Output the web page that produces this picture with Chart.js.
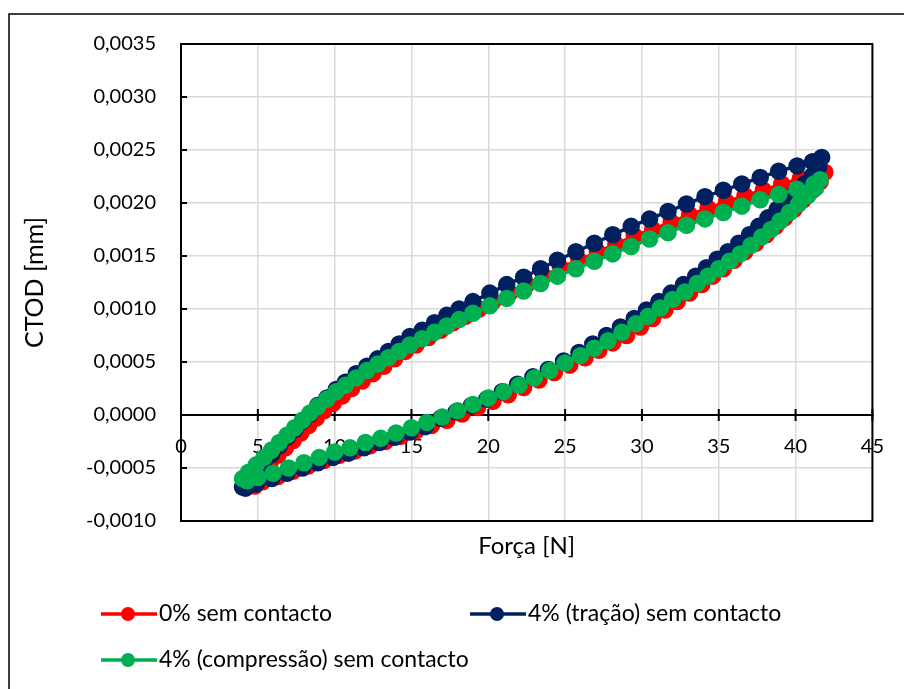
<!DOCTYPE html>
<html>
<head>
<meta charset="utf-8">
<script src="https://cdn.jsdelivr.net/npm/chart.js@4"></script>
<style>
    html, body { margin: 0; padding: 0; background: #fff; }
</style>
</head>
<body>
<canvas id="graficoCtod" width="904" height="689"></canvas>
<script>
// Dados (Força [N] vs CTOD [mm]) - ciclo de carga e descarga

var vermelhoX = [4.3, 4.8, 5.3, 5.8, 6.3, 6.8, 7.3, 7.8, 8.3, 8.8, 9.3, 9.9, 10.5, 11.1, 11.8, 12.5, 13.2, 13.9, 14.6, 15.3,
    16.1, 16.9, 17.7, 18.5, 19.4, 20.3, 21.4, 22.5, 23.6, 24.7, 25.9, 27.1, 28.3, 29.5, 30.7, 31.9, 33.1, 34.3, 35.5, 36.7,
    37.9, 39.1, 40.3, 41.4, 41.9,
    41.6, 41.1, 40.5, 39.9, 39.3, 38.7, 38.1, 37.4, 36.7, 36.0, 35.3, 34.6, 33.9, 33.1, 32.3, 31.5, 30.7, 29.9, 29.0, 28.1,
    27.2, 26.3, 25.3, 24.3, 23.3, 22.3, 21.3, 20.3, 19.3, 18.3, 17.3, 16.3, 15.3, 14.3, 13.3, 12.3, 11.3, 10.3, 9.3, 8.3,
    7.3, 6.3, 5.3, 4.8];
var vermelhoY = [-0.00066, -0.00059, -0.00052, -0.00045, -0.00038, -0.00031, -0.00024, -0.00017, -0.00010, -0.00003,
    0.00004, 0.00011, 0.00018, 0.00025, 0.00032, 0.00039, 0.00046, 0.00053, 0.00060, 0.00066,
    0.00073, 0.00080, 0.00087, 0.00093, 0.00100, 0.00107, 0.00115, 0.00123, 0.00131, 0.00139,
    0.00146, 0.00154, 0.00161, 0.00169, 0.00175, 0.00182, 0.00189, 0.00195, 0.00201, 0.00207,
    0.00212, 0.00218, 0.00223, 0.00227, 0.00229,
    0.00220, 0.00212, 0.00203, 0.00194, 0.00186, 0.00178, 0.00170, 0.00162, 0.00154, 0.00146,
    0.00138, 0.00131, 0.00123, 0.00115, 0.00107, 0.00099, 0.00091, 0.00083, 0.00075, 0.00068,
    0.00061, 0.00054, 0.00047, 0.00040, 0.00033, 0.00026, 0.00019, 0.00013, 0.00007, 0.00001,
    -0.00005, -0.00010, -0.00015, -0.00020, -0.00025, -0.00029, -0.00034, -0.00038, -0.00043, -0.00048,
    -0.00053, -0.00058, -0.00063, -0.00067];

var azulX = [4.0, 4.4, 4.9, 5.4, 5.9, 6.4, 6.9, 7.4, 7.9, 8.4, 8.9, 9.5, 10.1, 10.7, 11.4, 12.1, 12.8, 13.5, 14.2, 14.9,
    15.7, 16.5, 17.3, 18.1, 19.0, 20.1, 21.2, 22.3, 23.4, 24.5, 25.7, 26.9, 28.1, 29.3, 30.5, 31.7, 32.9, 34.1, 35.3, 36.5,
    37.7, 38.9, 40.1, 41.1, 41.7,
    41.5, 41.1, 40.6, 40.0, 39.4, 38.8, 38.2, 37.6, 37.0, 36.3, 35.6, 34.9, 34.2, 33.5, 32.7, 31.9, 31.1, 30.3, 29.5, 28.6,
    27.7, 26.8, 25.9, 24.9, 23.9, 22.9, 21.9, 20.9, 19.9, 18.9, 17.9, 16.9, 15.9, 14.9, 13.9, 12.9, 11.9, 10.9, 9.9, 8.9,
    7.9, 6.9, 5.9, 4.9, 4.2];
var azulY = [-0.00068, -0.00061, -0.00053, -0.00045, -0.00037, -0.00029, -0.00021, -0.00014, -0.00006, 0.00001,
    0.00009, 0.00016, 0.00024, 0.00031, 0.00039, 0.00046, 0.00053, 0.00060, 0.00067, 0.00074,
    0.00080, 0.00087, 0.00094, 0.00100, 0.00107, 0.00115, 0.00123, 0.00130, 0.00138, 0.00146,
    0.00154, 0.00162, 0.00170, 0.00178, 0.00185, 0.00192, 0.00199, 0.00206, 0.00212, 0.00218,
    0.00224, 0.00230, 0.00235, 0.00239, 0.00243,
    0.00234, 0.00226, 0.00218, 0.00210, 0.00202, 0.00194, 0.00186, 0.00178, 0.00170, 0.00162,
    0.00154, 0.00147, 0.00139, 0.00131, 0.00123, 0.00115, 0.00107, 0.00099, 0.00091, 0.00083,
    0.00075, 0.00067, 0.00059, 0.00051, 0.00043, 0.00036, 0.00029, 0.00022, 0.00015, 0.00009,
    0.00003, -0.00003, -0.00011, -0.00016, -0.00021, -0.00026, -0.00031, -0.00036, -0.00040, -0.00045,
    -0.00050, -0.00055, -0.00060, -0.00065, -0.00069];

var verdeX = [4.0, 4.4, 4.9, 5.4, 5.9, 6.4, 6.9, 7.4, 7.9, 8.4, 8.9, 9.5, 10.1, 10.7, 11.4, 12.1, 12.8, 13.5, 14.2, 14.9,
    15.7, 16.5, 17.3, 18.1, 19.0, 20.1, 21.2, 22.3, 23.4, 24.5, 25.7, 26.9, 28.1, 29.3, 30.5, 31.7, 32.9, 34.1, 35.3, 36.5,
    37.7, 38.9, 40.1, 41.2, 41.6,
    41.3, 40.8, 40.2, 39.6, 39.0, 38.4, 37.8, 37.1, 36.4, 35.7, 35.0, 34.3, 33.6, 32.8, 32.0, 31.2, 30.4, 29.6, 28.7, 27.8,
    26.9, 26.0, 25.0, 24.0, 23.0, 22.0, 21.0, 20.0, 19.0, 18.0, 17.0, 16.0, 15.0, 14.0, 13.0, 12.0, 11.0, 10.0, 9.0, 8.0,
    7.0, 6.0, 5.0, 4.3];
var verdeY = [-0.00060, -0.00054, -0.00047, -0.00040, -0.00033, -0.00026, -0.00019, -0.00012, -0.00005, 0.00002,
    0.00008, 0.00015, 0.00022, 0.00028, 0.00035, 0.00042, 0.00048, 0.00054, 0.00060, 0.00066,
    0.00072, 0.00078, 0.00084, 0.00090, 0.00096, 0.00103, 0.00110, 0.00117, 0.00124, 0.00131,
    0.00138, 0.00145, 0.00152, 0.00159, 0.00166, 0.00172, 0.00179, 0.00185, 0.00191, 0.00197,
    0.00203, 0.00208, 0.00213, 0.00218, 0.00222,
    0.00214, 0.00207, 0.00199, 0.00191, 0.00183, 0.00175, 0.00168, 0.00160, 0.00152, 0.00145,
    0.00138, 0.00131, 0.00124, 0.00116, 0.00109, 0.00101, 0.00093, 0.00086, 0.00078, 0.00070,
    0.00063, 0.00056, 0.00049, 0.00042, 0.00035, 0.00028, 0.00022, 0.00016, 0.00010, 0.00004,
    -0.00002, -0.00007, -0.00012, -0.00017, -0.00022, -0.00026, -0.00031, -0.00035, -0.00040, -0.00045,
    -0.00050, -0.00055, -0.00059, -0.00062];

var nomesSeries = ['0% sem contacto', '4% (tração) sem contacto', '4% (compressão) sem contacto'];
var coresSeries = ['#FF0000', '#002060', '#00B050'];

var fonteBase = 'Lato, "Open Sans", sans-serif';

function montarPontos(xs, ys) {
    return xs.map(function(x, i) { return { x: x, y: ys[i] }; });
}

function criarSerie(i, xs, ys, ordem) {
    return {
        label: nomesSeries[i],
        data: montarPontos(xs, ys),
        showLine: true,
        borderColor: coresSeries[i],
        backgroundColor: coresSeries[i],
        pointBackgroundColor: coresSeries[i],
        pointBorderColor: coresSeries[i],
        borderWidth: 3.5,
        pointRadius: 7,
        pointHoverRadius: 7,
        tension: 0,
        order: ordem
    };
}

// Plugin para moldura, marcas dos eixos, título do eixo X e legenda estilo Excel
var decoracao = {
    id: 'decoracao',
    beforeDraw: function(chart) {
        var ctx = chart.ctx;
        ctx.save();
        ctx.fillStyle = '#fff';
        ctx.fillRect(0, 0, chart.width, chart.height);
        ctx.strokeStyle = '#000';
        ctx.lineWidth = 1.5;
        ctx.strokeRect(9, 14, chart.width + 10, chart.height + 10);
        ctx.restore();
    },
    beforeDatasetsDraw: function(chart) {
        var ctx = chart.ctx;
        var a = chart.chartArea;
        var sx = chart.scales.x;
        var sy = chart.scales.y;
        ctx.save();
        ctx.strokeStyle = '#000';
        ctx.lineWidth = 2;
        ctx.strokeRect(a.left, a.top, a.right - a.left, a.bottom - a.top);

        var y0 = sy.getPixelForValue(0);
        ctx.beginPath();
        sx.ticks.forEach(function(t) {
            var px = sx.getPixelForValue(t.value);
            ctx.moveTo(px, y0 - 6);
            ctx.lineTo(px, y0 + 6);
        });
        sy.ticks.forEach(function(t) {
            var py = sy.getPixelForValue(t.value);
            ctx.moveTo(a.left, py);
            ctx.lineTo(a.left + 6, py);
        });
        ctx.stroke();
        ctx.restore();
    },
    afterDraw: function(chart) {
        var ctx = chart.ctx;
        var a = chart.chartArea;
        ctx.save();
        ctx.fillStyle = '#000';
        ctx.font = '24px ' + fonteBase;
        ctx.textAlign = 'center';
        ctx.textBaseline = 'middle';
        ctx.fillText('Força [N]', (a.left + a.right) / 2, 546);

        ctx.font = '23px ' + fonteBase;
        var posicoes = [[101, 614], [470, 614], [101, 660]];
        chart.data.datasets.forEach(function(ds, i) {
            var p = posicoes[i];
            ctx.strokeStyle = ds.borderColor;
            ctx.lineWidth = 3.5;
            ctx.beginPath();
            ctx.moveTo(p[0], p[1]);
            ctx.lineTo(p[0] + 56, p[1]);
            ctx.stroke();
            ctx.fillStyle = ds.borderColor;
            ctx.beginPath();
            ctx.arc(p[0] + 27, p[1], 7, 0, Math.PI * 2);
            ctx.fill();
            ctx.fillStyle = '#000';
            ctx.textAlign = 'left';
            ctx.fillText(ds.label, p[0] + 58, p[1]);
        });
        ctx.restore();
    }
};

document.addEventListener('DOMContentLoaded', function() {
    var ctx = document.getElementById('graficoCtod').getContext('2d');

    new Chart(ctx, {
        type: 'scatter',
        data: {
            datasets: [
                criarSerie(0, vermelhoX, vermelhoY, 3),
                criarSerie(1, azulX, azulY, 2),
                criarSerie(2, verdeX, verdeY, 1)
            ]
        },
        options: {
            responsive: false,
            animation: false,
            layout: {
                padding: { top: 44, right: 29, bottom: 168, left: 0 }
            },
            plugins: {
                legend: { display: false },
                tooltip: { enabled: false }
            },
            scales: {
                x: {
                    type: 'linear',
                    position: { y: 0 },
                    min: 0,
                    max: 45,
                    ticks: {
                        stepSize: 5,
                        padding: 20,
                        color: '#000',
                        font: { family: fonteBase, size: 20 },
                        callback: function(v) { return v; }
                    },
                    grid: { color: '#d9d9d9', lineWidth: 1.5, drawTicks: false },
                    border: { color: '#000', width: 2 }
                },
                y: {
                    type: 'linear',
                    min: -0.001,
                    max: 0.0035,
                    ticks: {
                        stepSize: 0.0005,
                        padding: 25,
                        color: '#000',
                        font: { family: fonteBase, size: 20 },
                        callback: function(v) { return v.toFixed(4).replace('.', ','); }
                    },
                    grid: { color: '#d9d9d9', lineWidth: 1.5, drawTicks: false },
                    border: { color: '#000', width: 2 },
                    title: {
                        display: true,
                        text: 'CTOD [mm]',
                        color: '#000',
                        font: { family: fonteBase, size: 25 },
                        padding: { top: 20, bottom: 0 }
                    },
                    afterFit: function(scale) { scale.width = 181; }
                }
            }
        },
        plugins: [decoracao]
    });
});
</script>
</body>
</html>
